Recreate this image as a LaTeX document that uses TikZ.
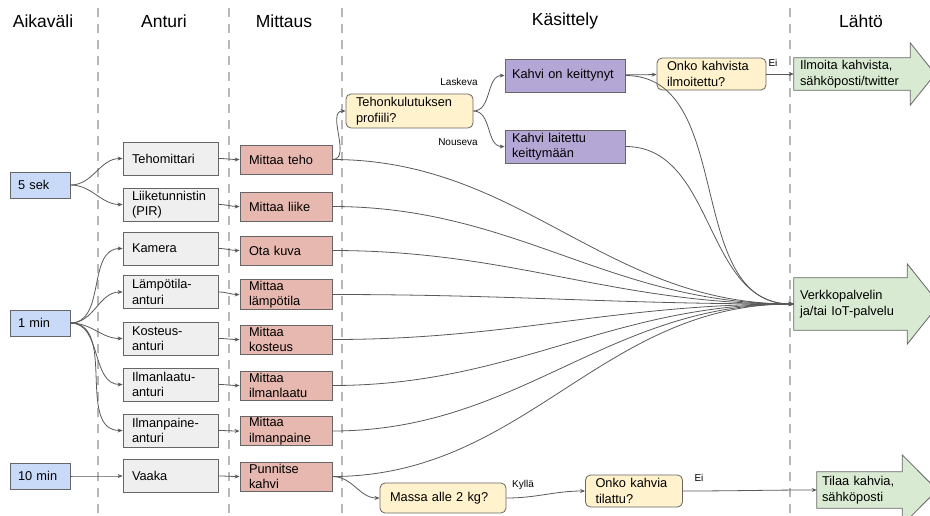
\documentclass[tikz,border=0pt]{standalone}
\usepackage{fontspec}
\setmainfont{Liberation Sans}
\usetikzlibrary{arrows.meta,calc,backgrounds}
\definecolor{viiva}{HTML}{595959}
\definecolor{reuna}{HTML}{666666}
\definecolor{katko}{HTML}{B7B7B7}
\definecolor{sininen}{HTML}{C9DAF8}
\definecolor{harmaa}{HTML}{EFEFEF}
\definecolor{punainen}{HTML}{E6B8AF}
\definecolor{keltainen}{HTML}{FFF2CC}
\definecolor{violetti}{HTML}{B4A7D6}
\definecolor{vihrea}{HTML}{D9EAD3}
\newcommand{\teksti}{\fontsize{12.8}{15.5}\selectfont}
\newcommand{\pieni}{\fontsize{10}{12}\selectfont}
\newcommand{\iso}{\fontsize{17.5}{20}\selectfont}

\begin{document}
\begin{tikzpicture}[x=1pt,y=-1pt,
    laatikko/.style={draw=reuna,line width=0.8pt,align=left,font=\teksti,inner xsep=10pt,inner ysep=1pt},
    aika/.style={laatikko,fill=sininen,minimum width=60pt,minimum height=26pt,text width=44pt,inner xsep=8pt},
    anturi/.style={laatikko,fill=harmaa,minimum width=95pt,minimum height=33pt,text width=77pt,inner xsep=9pt},
    mittaus/.style={laatikko,fill=punainen,minimum width=92pt,minimum height=29pt,text width=74pt,inner xsep=9pt},
    tila/.style={laatikko,fill=violetti,minimum width=120pt,minimum height=33pt,text width=106pt,inner xsep=7pt},
    kysymys/.style={laatikko,fill=keltainen,rounded corners=5pt,minimum height=32pt,inner xsep=10pt},
    lahto/.style={align=left,font=\teksti,inner ysep=0pt},
    lahtonuoli/.style={draw=reuna,line width=0.8pt,fill=vihrea},
    otsikko/.style={font=\iso},
    nimio/.style={font=\pieni},
    katkoviiva/.style={draw=katko,line width=2.5pt,dash pattern=on 9pt off 7pt},
    yhteys/.style={draw=viiva,line width=0.8pt,-{Stealth[length=5pt,width=4pt]}},
    kayra/.style={yhteys,out=0,in=180}]
    \useasboundingbox (0,0) rectangle (930,515);

    % otsikot ja sarakkeet
    \node[otsikko] at (43,21) {Aikaväli};
    \node[otsikko] at (164,21) {Anturi};
    \node[otsikko] at (284,21) {Mittaus};
    \node[otsikko] at (565,21) {Käsittely};
    \node[otsikko] at (861,21) {Lähtö};
    \foreach \x in {98,229,342,790}
      \draw[katkoviiva] (\x,8) -- (\x,515);

    \node[aika] (1) at (40,185) {5 sek};
    \node[aika] (2) at (40,323) {1 min};
    \node[aika] (3) at (40,476) {10 min};

    \node[anturi] (4) at (170.5,158.5) {Tehomittari};
    \node[anturi] (5) at (170.5,204.5) {Liiketunnistin\\(PIR)};
    \node[anturi] (6) at (170.5,248.5) {Kamera};
    \node[anturi] (7) at (170.5,292) {Lämpötila-\\anturi};
    \node[anturi] (8) at (170.5,338.5) {Kosteus-\\anturi};
    \node[anturi] (9) at (170.5,384.5) {Ilmanlaatu-\\anturi};
    \node[anturi] (10) at (170.5,430.5) {Ilmanpaine-\\anturi};
    \node[anturi] (11) at (170.5,476) {Vaaka};

    \node[mittaus] (12) at (286,159.5) {Mittaa teho};
    \node[mittaus] (13) at (286,206.5) {Mittaa liike};
    \node[mittaus] (14) at (286,250.5) {Ota kuva};
    \node[mittaus] (15) at (286,294.5) {Mittaa\\lämpötila};
    \node[mittaus] (16) at (286,339.5) {Mittaa\\kosteus};
    \node[mittaus] (17) at (286,385.5) {Mittaa\\ilmanlaatu};
    \node[mittaus] (18) at (286,431) {Mittaa\\ilmanpaine};
    \node[mittaus] (19) at (286,476.5) {Punnitse\\kahvi};

    \node[kysymys,minimum width=127pt,minimum height=34pt,text width=107pt] (20) at (409.5,111) {Tehonkulutuksen\\profiili?};
    \node[tila] (21) at (565,75.5) {Kahvi on keittynyt};
    \node[tila] (22) at (565,146.5) {Kahvi laitettu\\keittymään};
    \node[kysymys,minimum width=109pt,text width=89pt] (23) at (711.5,74) {Onko kahvista\\ilmoitettu?};
    \node[kysymys,minimum width=126pt,minimum height=30pt,text width=106pt] (24) at (443,498) {Massa alle 2 kg?};
    \node[kysymys,minimum width=97pt,text width=77pt] (25) at (634,491) {Onko kahvia\\tilattu?};

    \node[lahto,minimum width=116pt,minimum height=32pt,text width=104pt,inner xsep=6pt] (26) at (852,74) {Ilmoita kahvista,\\sähköposti/twitter};
    \node[lahto,minimum width=113pt,minimum height=52pt,text width=101pt,inner xsep=6pt] (27) at (850.5,304) {Verkkopalvelin\\ja/tai IoT-palvelu};
    \node[lahto,minimum width=85pt,minimum height=36pt,text width=75pt,inner xsep=5pt] (28) at (859.5,490) {Tilaa kahvia,\\sähköposti};
    \begin{pgfonlayer}{background}
      \foreach \n/\e/\h in {26/15pt/25pt,27/14pt/32pt,28/17pt/35pt}
        \filldraw[lahtonuoli] (\n.south west) -- (\n.north west) -- (\n.north east) -- ++(0,\e)
          -- ($(\n.east)+(\h,0)$) -- ($(\n.south east)+(0,-\e)$) -- (\n.south east) -- cycle;
    \end{pgfonlayer}

    \node[nimio] at (459,82) {Laskeva};
    \node[nimio] at (458,142) {Nouseva};
    \node[nimio] at (773,63) {Ei};
    \node[nimio] at (523,485) {Kyllä};
    \node[nimio] at (699,478) {Ei};

    \path
    (1) edge[kayra] (4)
    (1) edge[kayra] (5)
    (2) edge[kayra] (6)
    (2) edge[kayra] (7)
    (2) edge[kayra] (8)
    (2) edge[kayra] (9)
    (2) edge[kayra] (10)
    (3) edge[kayra] (11)

    (4) edge[kayra] (12)
    (5) edge[kayra] (13)
    (6) edge[kayra] (14)
    (7) edge[kayra] (15)
    (8) edge[kayra] (16)
    (9) edge[kayra] (17)
    (10) edge[kayra] (18)
    (11) edge[kayra] (19)

    (12) edge[kayra] (20)
    (20) edge[kayra] (21)
    (20) edge[kayra] (22)
    (21) edge[yhteys] (23)
    (23) edge[yhteys] (26)
    (19) edge[kayra] (24)
    (24) edge[kayra] (25)
    (25) edge[kayra] (28);

    \foreach \n in {12,13,14,15,16,17,18,19,21,22}
      \draw[kayra] (\n) to (27.west);
\end{tikzpicture}
\end{document}
